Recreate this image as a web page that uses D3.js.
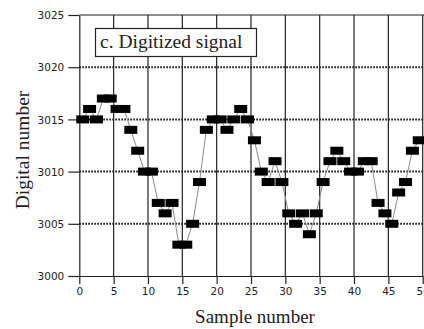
<!DOCTYPE html>
<html>
<head>
<meta charset="utf-8">
<script src="https://cdn.jsdelivr.net/npm/d3@7"></script>
<style>
  body { margin: 0; background: #fff; }
  svg { display: block; }
</style>
</head>
<body>
<svg id="chart" width="424" height="329"></svg>
<script>
// digitized samples, one per sample number 0..49
const digitized = [
  3015, 3016, 3015, 3017, 3017, 3016, 3016, 3014, 3012, 3010,
  3010, 3007, 3006, 3007, 3003, 3003, 3005, 3009, 3014, 3015,
  3015, 3014, 3015, 3016, 3015, 3013, 3010, 3009, 3011, 3009,
  3006, 3005, 3006, 3004, 3006, 3009, 3011, 3012, 3011, 3010,
  3010, 3011, 3011, 3007, 3006, 3005, 3008, 3009, 3012, 3013
];
const xTicks = [0, 5, 10, 15, 20, 25, 30, 35, 40, 45, 50];
const yTicks = [3000, 3005, 3010, 3015, 3020, 3025];
const yGrid = [3005, 3010, 3015, 3020];
const title = "c. Digitized signal";
const xLabel = "Sample number";
const yLabel = "Digital number";

const svg = d3.select("#chart");
const mLeft = 79.3, mRight = 422.7, mTop = 15, mBottom = 276;

const x = d3.scaleLinear().domain([0, 50]).range([mLeft, mRight]);
const y = d3.scaleLinear().domain([3000, 3025]).range([mBottom, mTop]);

const tickFont = "'DejaVu Sans', sans-serif";
const serif = "'Liberation Serif', 'Times New Roman', serif";

// dotted horizontal grid
svg.append("g").selectAll("line").data(yGrid).join("line")
  .attr("x1", mLeft).attr("x2", mRight + 2)
  .attr("y1", d => y(d)).attr("y2", d => y(d))
  .attr("stroke", "#111").attr("stroke-width", 2)
  .attr("stroke-dasharray", "1.6,1.4");

// solid vertical grid
svg.append("g").selectAll("line").data(xTicks.slice(1)).join("line")
  .attr("x1", d => x(d)).attr("x2", d => x(d))
  .attr("y1", mTop).attr("y2", mBottom)
  .attr("stroke", "#222").attr("stroke-width", 1.2);

// top border
svg.append("line")
  .attr("x1", mLeft).attr("x2", 424).attr("y1", mTop).attr("y2", mTop)
  .attr("stroke", "#222").attr("stroke-width", 1.2);

// axes
const xAxis = d3.axisBottom(x).tickValues(xTicks).tickSize(8).tickSizeOuter(0).tickFormat(d3.format("d"));
const yAxis = d3.axisLeft(y).tickValues(yTicks).tickSize(11).tickSizeOuter(0).tickFormat(d3.format("d"));

const gx = svg.append("g").attr("transform", `translate(0,${mBottom})`).call(xAxis);
const gy = svg.append("g").attr("transform", `translate(${mLeft},0)`).call(yAxis);

[gx, gy].forEach(g => {
  g.select(".domain").attr("stroke", "#222").attr("stroke-width", 1.2);
  g.selectAll(".tick line").attr("stroke", "#222").attr("stroke-width", 1.2);
  g.selectAll(".tick text")
    .attr("fill", "#222")
    .style("font-family", tickFont).style("font-size", "10.5px");
});
gx.selectAll(".tick text").attr("y", 12);
gy.selectAll(".tick text").attr("x", -15).attr("dy", "0.36em");

// connecting line through the samples (drawn under the markers)
const pos = i => x(i + 0.5);
svg.append("path")
  .datum(digitized)
  .attr("fill", "none")
  .attr("stroke", "#8a8a8a")
  .attr("stroke-width", 1)
  .attr("d", d3.line().x((d, i) => pos(i)).y(d => y(d)));

// sample markers
const mw = 13, mh = 8;
svg.append("g").selectAll("rect").data(digitized).join("rect")
  .attr("x", (d, i) => pos(i) - mw / 2)
  .attr("y", d => y(d) - mh / 2)
  .attr("width", mw).attr("height", mh)
  .attr("fill", "#000");

// title box
svg.append("rect")
  .attr("x", 95.5).attr("y", 28.5).attr("width", 161).attr("height", 28)
  .attr("fill", "#fff").attr("stroke", "#222").attr("stroke-width", 1.2);
svg.append("text")
  .attr("x", 100).attr("y", 48)
  .style("font-family", serif).style("font-size", "19.5px")
  .attr("fill", "#222")
  .text(title);

// axis titles
svg.append("text")
  .attr("x", (mLeft + mRight) / 2 + 4).attr("y", 323)
  .attr("text-anchor", "middle")
  .style("font-family", serif).style("font-size", "19px")
  .attr("fill", "#222")
  .text(xLabel);

svg.append("text")
  .attr("transform", `translate(29,150) rotate(-90)`)
  .attr("text-anchor", "middle")
  .style("font-family", serif).style("font-size", "19.5px")
  .attr("fill", "#222")
  .text(yLabel);
</script>
</body>
</html>
